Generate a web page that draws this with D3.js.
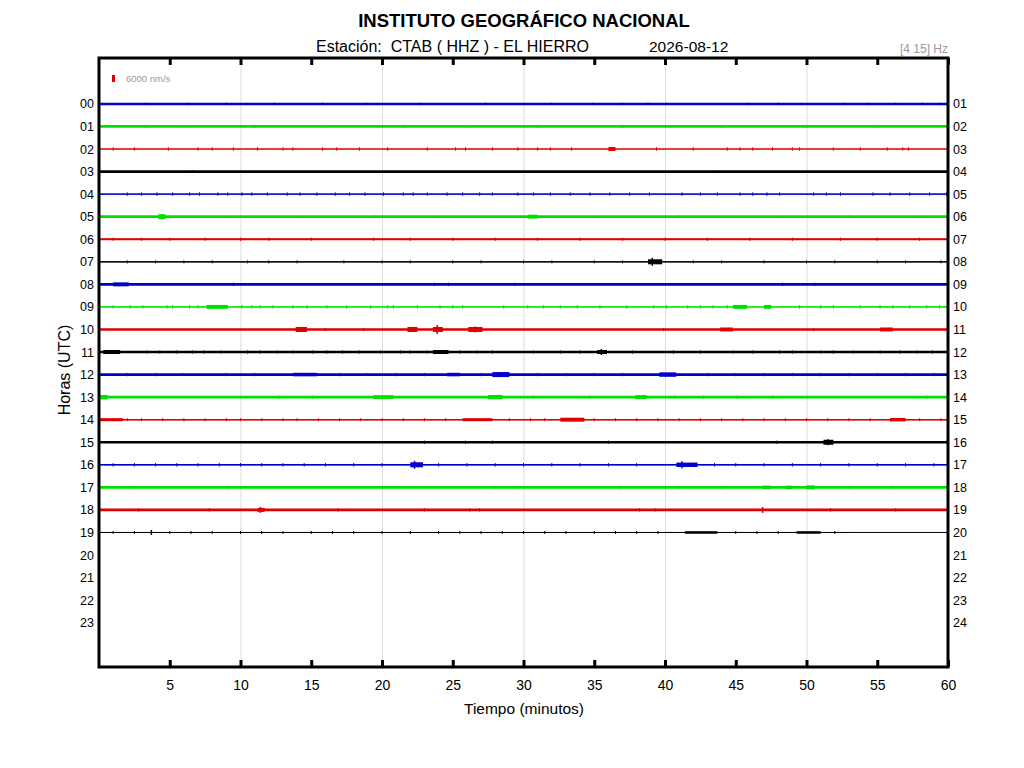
<!DOCTYPE html>
<html>
<head>
<meta charset="utf-8">
<script src="https://cdn.jsdelivr.net/npm/d3@7"></script>
<style>
  html, body { margin: 0; padding: 0; background: #fff; }
  svg { display: block; font-family: "Liberation Sans", Arial, sans-serif; }
  text { white-space: pre; }
</style>
</head>
<body>
<svg id="chart" width="1024" height="768"></svg>
<script>
// Helicorder CTAB (HHZ) – El Hierro, 2026-08-12
const TITLE = "INSTITUTO GEOGRÁFICO NACIONAL";
const STATION = "Estación:  CTAB ( HHZ ) - EL HIERRO";
const DAY = "2026-08-12";
const BAND = "[4 15] Hz";
const SCALE_NM = 6000;

const LEFT_LABELS = ["00","01","02","03","04","05","06","07","08","09","10","11",
  "12","13","14","15","16","17","18","19","20","21","22","23"];
const RIGHT_LABELS = ["01","02","03","04","05","06","07","08","09","10","11","12",
  "13","14","15","16","17","18","19","20","21","22","23","24"];
const X_TICKS = [5, 10, 15, 20, 25, 30, 35, 40, 45, 50, 55, 60];
const GRID = [10, 20, 30, 40, 50];
const COLORS = ["#0000c8", "#00e000", "#e00000", "#000000"];

// peak-to-peak background noise per hour (nm/s)
const NOISE_PP = [2100, 2400, 900, 2300, 1100, 2400, 1800, 1100, 2400, 1100,
  2300, 2300, 2300, 2400, 1200, 2000, 1200, 2400, 2300, 900];
// last minute with data for each traced hour
const DATA_END = [60, 60, 60, 60, 60, 60, 60, 60, 60, 60,
  60, 60, 60, 60, 60, 60, 60, 60, 60, 53.1];
// height of the small spikes per hour (nm/s)
const SPIKE_PP = [2200, 2600, 3000, 2200, 3000, 2600, 2800, 2600, 2800, 3000,
  2800, 2800, 2800, 2800, 2600, 2800, 3000, 2800, 2800, 2600];
// minutes of the small spikes, per hour
const SPIKES = [
  [3.3,6.3,9.0,12.4,15.8,18.9,22.7,27.3,32,34.9,37,38.8,40.1,45.9,48,52.6,54.3,56.3,58.2,59.4],
  [3.3,6.0,11,16,21.5,26,31,37,44,50,55],
  [1,2.5,4.9,7,8,9.5,11.2,13,13.7,15.8,16.8,18.4,20.4,23.2,25.2,25.9,27.8,29.6,31,31.9,33.4,39.4,42,44.4,45.3,46.2,47.6,49,49.5,51.9,53.8,55.7,56.8,57.2],
  [6.6,43.5],
  [2,3,4.1,5.2,6.4,7.1,8.4,9.1,10.1,10.8,11.9,13.3,14.2,15.4,16.7,17.7,18.8,20.1,21.5,22.2,23.2,24.6,25.7,26.9,27.8,29.6,30.7,31.9,33.3,34.7,36.1,37.5,38.9,41.2,42.5,43.7,45.3,46.2,47.2,48.1,50.5,51.4,52.4,54.7,55.9,57.3,58.7,59.9],
  [9,14,19.5,24,35,41,48,53,58],
  [1,3,5,7.5,10,12,15,19.4,22,25,28,31,34,37,40,43,46,49,52.4,55,58],
  [2,4,6,8,10.5,12,14,17.3,20,22,25,27,30,32,35,37,42,44,47,50,52,55,57,59.5],
  [9.5,23.7,24.7,29.4,48.3,50.6],
  [1,2.2,3.1,4.8,5.2,6.4,7,10.1,10.8,11.4,12.3,13.7,14.7,16.1,17.5,19.2,20.4,20.8,22.5,24.1,25,25.7,28.6,30.3,31.4,32.6,33.8,35.4,37.3,39.2,40.1,41.6,42.5,43.4,44.4,47.2,49.5,51,51.9,53.8,55.2,56.1,57.3,58.5,59.4],
  [16,18.7,39.9,50.5],
  [3.4,4.3,5.5,6.6,7.4,8.6,10.5,11.4,12.6,13.7,15.1,16.1,17.2,18.4,19.9,21.3,22,23.2,25.5,26.7,27.8,30.7,32.6,34,37.7,40.6,42.5,44.8,46.2,48.1,49,51,51.9,53.3,55.2,56.6,57.8,58.9],
  [2,4,6,9,11,17,19,21,23,27,31,33,35,37,43,45,47,49,51,53,55,57,59],
  [12.7,15.1,30.7,34.7,40.7,42.7,45.1,47.6,58.5],
  [1,2,3,4.5,6,7.5,9,10,11.5,13,14,15.5,17,18.5,20,21.5,23,24.5,29,30.5,31.5,35,36.5,38,39.5,41,42.5,44,45.5,47,48.5,50,51.5,53,54.5,58,59.5],
  [23,25.9,27.8,36,47.9,59.9],
  [1,2.5,4,5.5,7,8.5,10,11.5,13,14.5,16,18,20,24,26,28,30,32,34,36,38,43.5,45,47,49,51,53,55,57,59],
  [2.2,9.1,20.7,28,29.6,36.8,41,44,53,56],
  [2.8,7.8,16.9,23,26.2,26.9,38.2,39.3,51.7,56.3],
  [1,2.5,5,6.5,8,10,11.5,13,15,16.5,18,20,22,24,25.5,27,28.5,30,31.5,33,35,36.5,38,39.5,45,46.5,48,52]
];
// bursts of activity: [hour, from minute, to minute, peak-to-peak nm/s]
const BURSTS = [
  [2, 36.0, 36.5, 3400], [5, 4.2, 4.7, 4300], [5, 30.3, 31.0, 3400],
  [7, 38.8, 39.8, 4300], [8, 1.0, 2.1, 3400], [9, 7.6, 9.1, 3400],
  [9, 44.8, 45.8, 3400], [9, 47.0, 47.5, 3400],
  [10, 13.9, 14.7, 4300], [10, 21.8, 22.5, 4300], [10, 23.6, 24.3, 4300],
  [10, 26.1, 27.1, 4300], [10, 43.9, 44.8, 3400], [10, 55.2, 56.1, 3400],
  [11, 0.3, 1.5, 3400], [11, 23.6, 24.7, 3400], [11, 35.2, 35.9, 3400],
  [12, 13.7, 15.4, 3000], [12, 24.6, 25.5, 3000], [12, 27.8, 29.0, 4300], [12, 39.6, 40.8, 3800],
  [13, 0, 0.6, 3800], [13, 19.4, 20.8, 3400], [13, 27.5, 28.5, 3800], [13, 37.9, 38.7, 3400],
  [14, 0, 1.7, 2600], [14, 25.7, 27.8, 2600], [14, 32.6, 34.3, 3400], [14, 55.9, 57.0, 3000],
  [15, 51.2, 51.9, 4300], [16, 22.0, 22.9, 4300], [16, 40.8, 42.3, 3800],
  [17, 46.9, 47.5, 3000], [17, 48.5, 49.0, 3000], [17, 50.0, 50.6, 3400],
  [18, 11.2, 11.7, 3400], [19, 41.4, 43.7, 2200], [19, 49.3, 51.0, 2200]
];
// single large peaks: [hour, minute, peak-to-peak nm/s]
const PEAKS = [
  [7, 39.1, 6800], [10, 23.9, 7700], [10, 26.6, 5100], [11, 35.5, 5100],
  [15, 51.5, 5100], [16, 22.3, 6800], [16, 41.2, 6000], [18, 11.4, 5100],
  [18, 46.9, 5100], [19, 3.7, 4300]
];

const svg = d3.select("#chart");
const m = { l: 99, r: 76, t: 58, b: 101 };
const W = 1024, H = 768;
const iw = W - m.l - m.r, ih = H - m.t - m.b;

const x = d3.scaleLinear().domain([0, 60]).range([0, iw]);
const y = d3.scaleLinear().domain([-2, 25]).range([0.8, ih + 0.8]);
const amp = d3.scaleLinear().domain([0, SCALE_NM]).range([0, 7]);

const g = svg.append("g").attr("transform", `translate(${m.l},${m.t})`);

// grid
g.append("g").attr("transform", `translate(0,${ih})`)
  .call(d3.axisBottom(x).tickValues(GRID).tickSize(-ih).tickFormat(""))
  .call(a => a.select(".domain").remove())
  .call(a => a.selectAll("line").attr("stroke", "#dcdcdc").attr("stroke-width", 1));

// traces
const hours = NOISE_PP.map((d, i) => i);
hours.forEach(h => {
  const c = COLORS[h % 4];
  const tr = g.append("g");
  tr.append("line").attr("x1", x(0)).attr("x2", x(60))
    .attr("y1", y(h)).attr("y2", y(h)).attr("stroke", c).attr("stroke-width", 1);
  tr.append("line").attr("x1", x(0)).attr("x2", x(DATA_END[h]))
    .attr("y1", y(h)).attr("y2", y(h)).attr("stroke", c)
    .attr("stroke-width", Math.max(1, amp(NOISE_PP[h])));
  tr.selectAll("line.sp").data(SPIKES[h]).join("line").attr("class", "sp")
    .attr("x1", d => x(d)).attr("x2", d => x(d))
    .attr("y1", y(h) - amp(SPIKE_PP[h]) / 2).attr("y2", y(h) + amp(SPIKE_PP[h]) / 2)
    .attr("stroke", c).attr("stroke-width", 1);
});

g.selectAll("rect.burst").data(BURSTS).join("rect").attr("class", "burst")
  .attr("x", d => x(d[1])).attr("width", d => x(d[2]) - x(d[1]))
  .attr("y", d => y(d[0]) - amp(d[3]) / 2).attr("height", d => amp(d[3]))
  .attr("fill", d => COLORS[d[0] % 4]);

g.selectAll("line.peak").data(PEAKS).join("line").attr("class", "peak")
  .attr("x1", d => x(d[1])).attr("x2", d => x(d[1]))
  .attr("y1", d => y(d[0]) - amp(d[2]) / 2).attr("y2", d => y(d[0]) + amp(d[2]) / 2)
  .attr("stroke", d => COLORS[d[0] % 4]).attr("stroke-width", 1.5);

// axes
const tickStyle = a => {
  a.select(".domain").remove();
  a.selectAll(".tick line").attr("stroke", "#000").attr("stroke-width", 3);
  a.selectAll("text").attr("font-size", 14).attr("fill", "#000");
};
g.append("g").attr("transform", `translate(0,${ih})`)
  .call(d3.axisBottom(x).tickValues(X_TICKS).tickSize(-7).tickPadding(13))
  .call(tickStyle);
g.append("g")
  .call(d3.axisTop(x).tickValues(X_TICKS).tickSize(-7).tickFormat(""))
  .call(tickStyle);

const labIdx = LEFT_LABELS.map((d, i) => i);
g.append("g")
  .call(d3.axisLeft(y).tickValues(labIdx).tickSize(0).tickPadding(5).tickFormat(i => LEFT_LABELS[i]))
  .call(a => a.select(".domain").remove())
  .call(a => a.selectAll("text").attr("font-size", 12.5).attr("fill", "#000"));
g.append("g").attr("transform", `translate(${iw},0)`)
  .call(d3.axisRight(y).tickValues(labIdx).tickSize(0).tickPadding(5).tickFormat(i => RIGHT_LABELS[i]))
  .call(a => a.select(".domain").remove())
  .call(a => a.selectAll("text").attr("font-size", 12.5).attr("fill", "#000"));

// frame
g.append("rect").attr("width", iw).attr("height", ih)
  .attr("fill", "none").attr("stroke", "#000").attr("stroke-width", 3);

// amplitude scale bar
g.append("rect").attr("x", 13).attr("y", 20.5 - amp(SCALE_NM) / 2)
  .attr("width", 3).attr("height", amp(SCALE_NM)).attr("fill", "#e00000");
g.append("text").attr("x", 27).attr("y", 24).attr("font-size", 9.5)
  .attr("fill", "#999").text(SCALE_NM + " nm/s");

// titles
svg.append("text").attr("x", 524).attr("y", 27).attr("text-anchor", "middle")
  .attr("font-size", 18.5).attr("font-weight", "bold").text(TITLE);
svg.append("text").attr("x", 316).attr("y", 52).attr("font-size", 16).text(STATION);
svg.append("text").attr("x", 649).attr("y", 52).attr("font-size", 15.5).text(DAY);
svg.append("text").attr("x", 948).attr("y", 53).attr("text-anchor", "end")
  .attr("font-size", 12).attr("fill", "#999").text(BAND);

svg.append("text").attr("x", 524).attr("y", 714).attr("text-anchor", "middle")
  .attr("font-size", 15.5).text("Tiempo (minutos)");
svg.append("text").attr("transform", "translate(70,370) rotate(-90)")
  .attr("text-anchor", "middle").attr("font-size", 16).text("Horas (UTC)");
</script>
</body>
</html>
